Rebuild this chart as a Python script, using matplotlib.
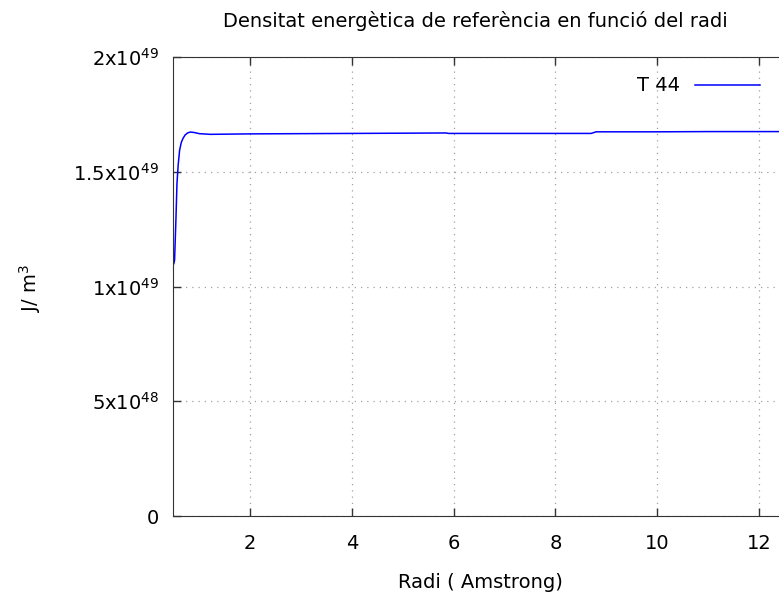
import matplotlib
matplotlib.use("Agg")
import matplotlib.pyplot as plt

# radius (Angstrom) and energy density (J/m^3)
radi = [0.5, 0.514, 0.542, 0.561, 0.585, 0.613, 0.645, 0.679, 0.72, 0.77, 0.823,
        0.9, 1.0, 1.215, 1.6, 2.0, 3.0, 4.0, 5.0, 5.85, 5.9, 7.0, 8.0, 8.7, 8.8,
        10.0, 11.0, 12.0, 12.6]
densitat = [1.10e49, 1.115e49, 1.303e49, 1.449e49, 1.53e49, 1.594e49, 1.627e49,
            1.645e49, 1.66e49, 1.669e49, 1.673e49, 1.671e49, 1.666e49, 1.663e49,
            1.664e49, 1.665e49, 1.666e49, 1.667e49, 1.668e49, 1.669e49, 1.667e49,
            1.667e49, 1.667e49, 1.667e49, 1.674e49, 1.674e49, 1.675e49, 1.675e49,
            1.675e49]

yticks = [0, 5e48, 1e49, 1.5e49, 2e49]
ytick_labels = ["0", r"5x10$^{48}$", r"1x10$^{49}$", r"1.5x10$^{49}$", r"2x10$^{49}$"]
xticks = [2, 4, 6, 8, 10, 12]

W, H = 779, 603
fs = 14

fig = plt.figure(figsize=(W / 100, H / 100), dpi=100)
ax = fig.add_axes([173 / W, 1 - 516 / H, (787 - 173) / W, (516 - 57) / H])

ax.plot(radi, densitat, color="#0000ff", lw=1.1, label="T 44")

ax.set_xlim(0.483, 12.55)
ax.set_ylim(0, 2e49)
ax.set_xticks(xticks)
ax.set_yticks(yticks)
ax.set_yticklabels(ytick_labels)
ax.tick_params(direction="in", length=6, width=1, labelsize=fs,
               top=True, right=True, color="#333333")
ax.tick_params(axis="x", pad=13)
ax.tick_params(axis="y", pad=10)
ax.grid(True, linestyle=(0, (1, 4)), color="#a0a0a0", lw=0.9)
for s in ax.spines.values():
    s.set_color("#333333")

fig.text(475 / W, 1 - 21 / H, "Densitat energètica de referència en funció del radi",
         fontsize=fs, ha="center", va="center")
fig.text(480 / W, 1 - 582 / H, "Radi ( Amstrong)", fontsize=fs, ha="center", va="center")
fig.text(30 / W, 1 - 288 / H, r"J/ m$^3$", fontsize=fs, ha="center", va="center",
         rotation=90)

leg = ax.legend(loc="upper right", bbox_to_anchor=((779 - 173) / (787 - 173), 1.0),
                frameon=False, markerfirst=False, fontsize=fs, handlelength=3.3,
                borderaxespad=0.6, handletextpad=0.8)

fig.savefig("out.png", dpi=100)
plt.close(fig)
